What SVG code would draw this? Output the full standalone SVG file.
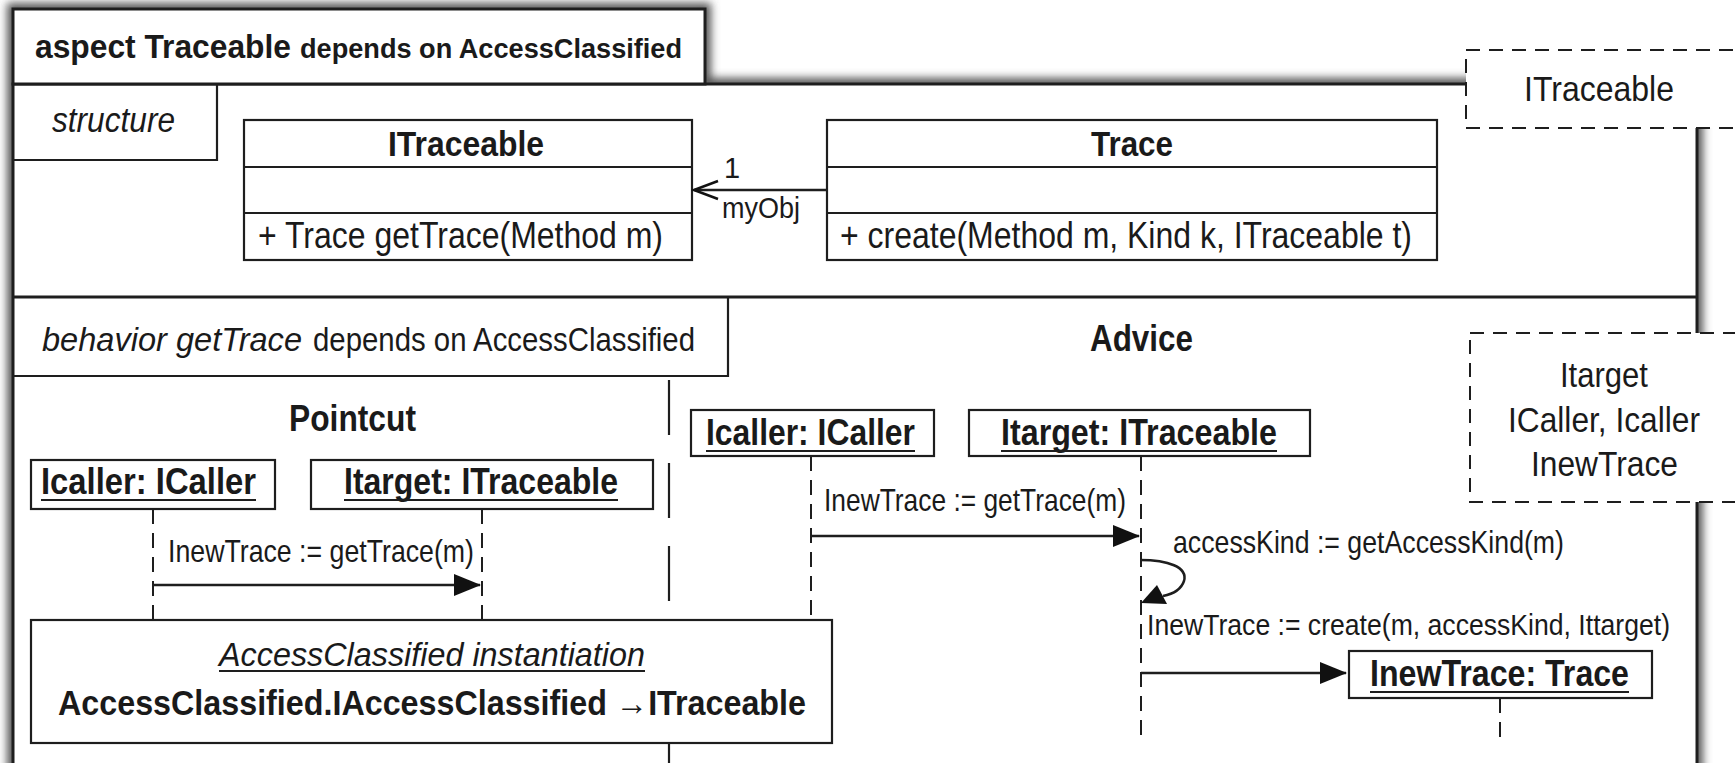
<svg xmlns="http://www.w3.org/2000/svg" width="1735" height="763" viewBox="0 0 1735 763">
<defs>
<style>
.t{font-family:'Liberation Sans Narrow','Liberation Sans',Arial,sans-serif;fill:#1a1a1a}
.b{font-weight:bold}
.i{font-style:italic}
.ln{stroke:#1e1e1e;fill:none}
.box{fill:#fff;stroke:#1e1e1e;stroke-width:2.2}
.dbox{fill:#fff;stroke:#1e1e1e;stroke-width:2;stroke-dasharray:14 9}
.life{stroke:#1e1e1e;stroke-width:2;stroke-dasharray:15 9;fill:none}
.ul{stroke:#1e1e1e;stroke-width:2}
</style>
<filter id="blur" x="-5%" y="-10%" width="110%" height="120%"><feGaussianBlur stdDeviation="4"/></filter>
<marker id="fillArrow" markerWidth="28" markerHeight="24" refX="26" refY="11" orient="auto" markerUnits="userSpaceOnUse"><path d="M0,0 L27,11 L0,22 z" fill="#111"/></marker>
<marker id="openArrow" markerWidth="28" markerHeight="24" refX="25" refY="11" orient="auto" markerUnits="userSpaceOnUse"><path d="M1,2 L25,11 L1,20" fill="none" stroke="#111" stroke-width="2.5"/></marker>
</defs>
<rect width="1735" height="763" fill="#fff"/>

<g id="aspect-frame">
<path d="M13,780 V9 H705 V84 H1697 V780" fill="none" stroke="#555" stroke-width="12" filter="url(#blur)"/>
<rect x="13" y="84" width="1684" height="720" fill="#fff" stroke="#1e1e1e" stroke-width="3"/>
<rect x="13" y="9" width="692" height="75" fill="#fff" stroke="#1e1e1e" stroke-width="3"/>
<text class="t b" x="35" y="58" font-size="34" textLength="256" lengthAdjust="spacingAndGlyphs">aspect Traceable</text>
<text class="t b" x="300" y="58" font-size="28" textLength="382" lengthAdjust="spacingAndGlyphs">depends on AccessClassified</text>
<line class="ln" x1="13" y1="297" x2="1697" y2="297" stroke-width="3"/>
</g>

<g id="structure-tab">
<path class="ln" d="M13,160 H217 V84" stroke-width="2.2"/>
<text class="t i" x="52" y="132" font-size="35" textLength="123" lengthAdjust="spacingAndGlyphs">structure</text>
</g>

<g id="class-ITraceable">
<rect class="box" x="244" y="120" width="448" height="140"/>
<line class="ln" x1="244" y1="167" x2="692" y2="167" stroke-width="2.2"/>
<line class="ln" x1="244" y1="213" x2="692" y2="213" stroke-width="2.2"/>
<text class="t b" x="388" y="156" font-size="35" textLength="156" lengthAdjust="spacingAndGlyphs">ITraceable</text>
<text class="t" x="258" y="248" font-size="36" textLength="405" lengthAdjust="spacingAndGlyphs">+ Trace getTrace(Method m)</text>
</g>

<g id="class-Trace">
<rect class="box" x="827" y="120" width="610" height="140"/>
<line class="ln" x1="827" y1="167" x2="1437" y2="167" stroke-width="2.2"/>
<line class="ln" x1="827" y1="213" x2="1437" y2="213" stroke-width="2.2"/>
<text class="t b" x="1091" y="156" font-size="35" textLength="82" lengthAdjust="spacingAndGlyphs">Trace</text>
<text class="t" x="840" y="248" font-size="36" textLength="572" lengthAdjust="spacingAndGlyphs">+ create(Method m, Kind k, ITraceable t)</text>
</g>

<g id="template-ITraceable">
<rect class="dbox" x="1466" y="50" width="290" height="78"/>
<text class="t" x="1524" y="101" font-size="35" textLength="150" lengthAdjust="spacingAndGlyphs">ITraceable</text>
</g>

<g id="behavior-tab">
<path class="ln" d="M13,376 H728 V297" stroke-width="2.2"/>
<text class="t i" x="42" y="351" font-size="34" textLength="260" lengthAdjust="spacingAndGlyphs">behavior getTrace</text>
<text class="t" x="313" y="351" font-size="34" textLength="382" lengthAdjust="spacingAndGlyphs">depends on AccessClassified</text>
</g>

<g id="pointcut">
<text class="t b" x="289" y="431" font-size="36" textLength="127" lengthAdjust="spacingAndGlyphs">Pointcut</text>
</g>

<g id="advice">
<text class="t b" x="1090" y="351" font-size="36" textLength="103" lengthAdjust="spacingAndGlyphs">Advice</text>
</g>

<g id="separator">
<line x1="669" y1="380" x2="669" y2="770" stroke="#1e1e1e" stroke-width="2.2" stroke-dasharray="55 28"/>
</g>

<g id="lifelines">
<line class="life" x1="153" y1="509" x2="153" y2="620"/>
<line class="life" x1="482" y1="509" x2="482" y2="620"/>
<line class="life" x1="811" y1="456" x2="811" y2="620"/>
<line class="life" x1="1141" y1="456" x2="1141" y2="738"/>
<line class="life" x1="1500" y1="698" x2="1500" y2="742"/>
</g>

<g id="pc-caller">
<rect class="box" x="31" y="460" width="244" height="49"/>
<text class="t b" x="41" y="494" font-size="36" textLength="215" lengthAdjust="spacingAndGlyphs">Icaller: ICaller</text>
<line class="ul" x1="41" y1="500" x2="256" y2="500"/>
</g>

<g id="pc-target">
<rect class="box" x="311" y="460" width="342" height="49"/>
<text class="t b" x="344" y="494" font-size="36" textLength="274" lengthAdjust="spacingAndGlyphs">Itarget: ITraceable</text>
<line class="ul" x1="344" y1="500" x2="618" y2="500"/>
</g>

<g id="adv-caller">
<rect class="box" x="691" y="410" width="243" height="46"/>
<text class="t b" x="706" y="445" font-size="36" textLength="209" lengthAdjust="spacingAndGlyphs">Icaller: ICaller</text>
<line class="ul" x1="706" y1="451" x2="915" y2="451"/>
</g>

<g id="adv-target">
<rect class="box" x="969" y="410" width="341" height="46"/>
<text class="t b" x="1001" y="445" font-size="36" textLength="276" lengthAdjust="spacingAndGlyphs">Itarget: ITraceable</text>
<line class="ul" x1="1001" y1="451" x2="1277" y2="451"/>
</g>

<g id="adv-newtrace">
<rect class="box" x="1349" y="651" width="303" height="47"/>
<text class="t b" x="1370" y="686" font-size="36" textLength="259" lengthAdjust="spacingAndGlyphs">InewTrace: Trace</text>
<line class="ul" x1="1370" y1="692" x2="1629" y2="692"/>
</g>

<g id="instantiation">
<rect class="box" x="31" y="620" width="801" height="123" stroke-width="2.5"/>
<text class="t i" x="219" y="666" font-size="34" textLength="426" lengthAdjust="spacingAndGlyphs">AccessClassified instantiation</text>
<line class="ul" x1="219" y1="671" x2="645" y2="671"/>
<text class="t b" x="58" y="715" font-size="35" textLength="748" lengthAdjust="spacingAndGlyphs">AccessClassified.IAccessClassified →ITraceable</text>
</g>

<g id="template-behavior">
<rect class="dbox" x="1470" y="333" width="290" height="169"/>
<text class="t" x="1560" y="387" font-size="35" textLength="88" lengthAdjust="spacingAndGlyphs">Itarget</text>
<text class="t" x="1508" y="432" font-size="35" textLength="192" lengthAdjust="spacingAndGlyphs">ICaller, Icaller</text>
<text class="t" x="1531" y="476" font-size="35" textLength="147" lengthAdjust="spacingAndGlyphs">InewTrace</text>
</g>

<g id="connectors">
<line class="ln" x1="827" y1="190" x2="694" y2="190" stroke-width="2.5" marker-end="url(#openArrow)"/>
<text class="t" x="724" y="178" font-size="29">1</text>
<text class="t" x="722" y="218" font-size="30" textLength="78" lengthAdjust="spacingAndGlyphs">myObj</text>

<line class="ln" x1="153" y1="585" x2="480" y2="585" stroke-width="2.5" marker-end="url(#fillArrow)"/>
<text class="t" x="168" y="562" font-size="32" textLength="306" lengthAdjust="spacingAndGlyphs">InewTrace := getTrace(m)</text>

<line class="ln" x1="811" y1="536" x2="1139" y2="536" stroke-width="2.5" marker-end="url(#fillArrow)"/>
<text class="t" x="824" y="511" font-size="32" textLength="302" lengthAdjust="spacingAndGlyphs">InewTrace := getTrace(m)</text>

<path class="ln" d="M1140,560 C1168,560 1188,567 1184,581 C1181,590 1173,594 1163,596" stroke-width="2.5"/>
<polygon points="1141,603 1157,585 1167,604" fill="#111"/>
<text class="t" x="1147" y="635" font-size="29" textLength="523" lengthAdjust="spacingAndGlyphs">InewTrace := create(m, accessKind, Ittarget)</text>
<text class="t" x="1173" y="553" font-size="32" textLength="391" lengthAdjust="spacingAndGlyphs">accessKind := getAccessKind(m)</text>

<line class="ln" x1="1141" y1="673" x2="1346" y2="673" stroke-width="2.5" marker-end="url(#fillArrow)"/>
</g>
</svg>
